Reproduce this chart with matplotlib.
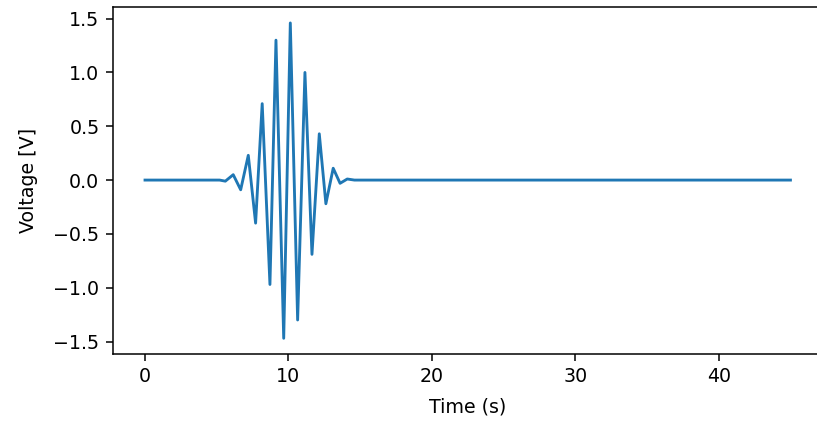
import matplotlib
matplotlib.use("Agg")
from matplotlib import pyplot as plt

# turning points of the burst (time in s, voltage in V), flat before and after
time_s = [0.0, 5.2, 5.6, 6.15, 6.67, 7.20, 7.71, 8.17, 8.71, 9.13, 9.67,
          10.13, 10.64, 11.15, 11.64, 12.15, 12.61, 13.12, 13.60, 14.1, 14.6, 45.0]
voltage = [0.0, 0.0, -0.01, 0.05, -0.09, 0.23, -0.40, 0.71, -0.97, 1.30, -1.47,
           1.46, -1.30, 1.00, -0.69, 0.43, -0.22, 0.11, -0.03, 0.01, 0.0, 0.0]

dpi = 137
fig = plt.figure(figsize=(817 / dpi, 422 / dpi), dpi=dpi)
# axes run a little past the right edge of the figure
ax = fig.add_axes([0.138, 0.161, 0.869, 0.822])

ax.plot(time_s, voltage, color="#1f77b4", linewidth=1.5)
ax.set_xlabel("Time (s)", labelpad=6)
ax.set_ylabel("Voltage [V]", labelpad=8)
ax.set_yticks([-1.5, -1.0, -0.5, 0.0, 0.5, 1.0, 1.5])

fig.savefig("out.png", dpi=dpi)
